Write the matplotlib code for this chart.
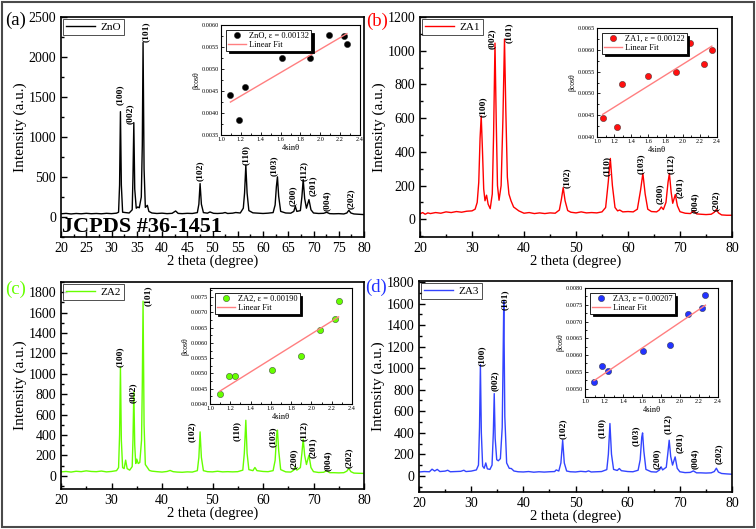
import numpy as np
import matplotlib
matplotlib.use("Agg")
import matplotlib.pyplot as plt
from matplotlib.ticker import MultipleLocator, FormatStrFormatter
from matplotlib.patches import Rectangle

plt.rcParams['font.family'] = ['Liberation Serif', 'DejaVu Serif']

# ----------------------------------------------------------
#   XRD patterns (2 theta, intensity)
# ----------------------------------------------------------
zno_pattern = [
    (20.0, 40), (21.0, 45), (22.0, 38), (23.0, 44), (24.0, 40), (25.0, 46), (26.0, 41),
    (27.0, 44), (28.0, 40), (29.0, 46), (30.0, 42), (31.0, 48), (31.4, 60), (31.6, 400),
    (31.77, 1317), (31.95, 400), (32.2, 60), (32.8, 55), (33.5, 50), (34.1, 90), (34.25, 500),
    (34.42, 1179), (34.6, 350), (34.9, 110), (35.2, 125), (35.5, 115), (35.9, 250), (36.1, 900),
    (36.25, 2182), (36.45, 600), (36.7, 120), (37.1, 146), (37.4, 70), (38.0, 50), (39.0, 44),
    (40.0, 48), (41.0, 42), (42.0, 46), (42.7, 75), (43.2, 45), (44.0, 42), (45.0, 46),
    (46.0, 44), (47.0, 55), (47.3, 160), (47.54, 418), (47.8, 160), (48.2, 55), (49.0, 48),
    (49.5, 63), (50.2, 46), (51.0, 44), (52.0, 48), (52.5, 56), (53.0, 44), (54.0, 48),
    (54.6, 56), (55.5, 50), (56.1, 110), (56.35, 300), (56.6, 648), (56.85, 300), (57.2, 80),
    (58.0, 52), (59.0, 48), (60.0, 44), (61.0, 48), (62.0, 55), (62.4, 150), (62.65, 380),
    (62.86, 502), (63.1, 260), (63.5, 70), (64.5, 50), (65.5, 48), (66.1, 70), (66.4, 134),
    (66.7, 70), (67.4, 80), (67.7, 250), (67.96, 468), (68.25, 230), (68.6, 110), (69.1, 217),
    (69.5, 90), (70.0, 50), (71.0, 44), (72.0, 46), (72.6, 59), (73.2, 42), (74.0, 40),
    (75.0, 42), (76.0, 38), (76.6, 50), (77.0, 84), (77.4, 50), (78.0, 38), (79.0, 34), (80.0, 30)]

za1_pattern = [
    (20.0, 32), (20.5, 40), (21.0, 30), (21.5, 38), (22.0, 34), (23.0, 40), (24.0, 36),
    (25.0, 44), (26.0, 40), (27.0, 46), (28.0, 42), (29.0, 48), (30.0, 50), (30.6, 60),
    (31.0, 100), (31.3, 220), (31.55, 480), (31.77, 613), (32.0, 420), (32.25, 180), (32.5, 110),
    (32.8, 143), (33.1, 90), (33.5, 63), (33.9, 150), (34.15, 500), (34.42, 1045), (34.65, 600),
    (34.9, 200), (35.2, 113), (35.6, 200), (35.95, 600), (36.25, 1069), (36.5, 650), (36.8, 250),
    (37.1, 150), (37.5, 110), (38.0, 73), (39.0, 50), (40.0, 36), (41.0, 40), (42.0, 34),
    (43.0, 38), (44.0, 34), (45.0, 38), (46.0, 36), (46.8, 55), (47.2, 120), (47.54, 188),
    (47.9, 110), (48.4, 52), (49.0, 42), (50.0, 38), (51.0, 44), (52.0, 38), (53.0, 40),
    (54.0, 38), (55.0, 44), (55.7, 70), (56.2, 220), (56.6, 361), (57.0, 200), (57.5, 70),
    (58.0, 50), (58.4, 55), (59.0, 44), (60.0, 46), (61.0, 44), (61.8, 60), (62.4, 170),
    (62.86, 272), (63.3, 150), (63.8, 60), (64.5, 46), (65.5, 44), (66.0, 55), (66.4, 73),
    (66.8, 58), (67.3, 100), (67.7, 220), (67.96, 272), (68.3, 160), (68.6, 95), (69.1, 147),
    (69.5, 80), (70.0, 45), (71.0, 36), (72.0, 34), (72.6, 50), (73.2, 32), (74.0, 30),
    (75.0, 28), (76.0, 30), (76.6, 42), (77.0, 58), (77.4, 38), (78.0, 26), (79.0, 24), (80.0, 24)]

za2_pattern = [
    (20.0, 38), (21.0, 42), (22.0, 36), (23.0, 44), (24.0, 40), (25.0, 48), (26.0, 42),
    (27.0, 40), (28.0, 46), (29.0, 38), (30.0, 42), (31.0, 50), (31.4, 80), (31.6, 400),
    (31.77, 1066), (31.95, 350), (32.2, 80), (32.5, 70), (32.8, 153), (33.1, 70), (33.6, 55),
    (34.1, 90), (34.25, 350), (34.42, 822), (34.6, 300), (34.8, 120), (35.0, 163), (35.3, 120),
    (35.6, 130), (35.95, 350), (36.1, 900), (36.25, 1712), (36.45, 500), (36.7, 110), (37.5, 52),
    (38.0, 45), (39.0, 40), (40.0, 36), (41.0, 42), (41.6, 52), (42.2, 40), (43.0, 36),
    (44.0, 34), (45.0, 38), (46.0, 36), (47.0, 50), (47.3, 180), (47.54, 430), (47.8, 180),
    (48.2, 50), (49.0, 40), (50.0, 38), (51.0, 44), (52.0, 38), (53.0, 40), (54.0, 38),
    (55.0, 40), (56.0, 55), (56.3, 220), (56.6, 544), (56.85, 220), (57.2, 60), (58.0, 50),
    (58.4, 81), (58.8, 50), (60.0, 42), (61.0, 40), (62.0, 50), (62.4, 150), (62.7, 400),
    (62.86, 447), (63.1, 250), (63.5, 60), (64.5, 38), (65.5, 36), (66.1, 55), (66.4, 88),
    (66.7, 55), (67.4, 80), (67.7, 220), (67.96, 359), (68.25, 200), (68.6, 110), (69.1, 202),
    (69.5, 80), (70.0, 40), (71.0, 32), (72.0, 34), (72.6, 49), (73.2, 30), (74.0, 30),
    (75.0, 28), (76.0, 30), (76.6, 45), (77.0, 72), (77.4, 40), (78.0, 26), (79.0, 24), (80.0, 23)]

za3_pattern = [
    (20.0, 36), (21.0, 40), (22.0, 38), (22.5, 62), (23.0, 45), (23.5, 60), (24.0, 40),
    (25.0, 44), (25.5, 52), (26.0, 38), (27.0, 40), (28.0, 42), (28.6, 52), (29.0, 40),
    (30.0, 44), (31.0, 55), (31.4, 100), (31.6, 450), (31.77, 1033), (31.95, 400), (32.2, 90),
    (32.5, 70), (32.8, 120), (33.1, 65), (33.6, 60), (34.0, 100), (34.25, 400), (34.42, 764),
    (34.6, 350), (34.9, 150), (35.2, 140), (35.6, 160), (35.95, 450), (36.1, 1000), (36.25, 1620),
    (36.45, 550), (36.8, 120), (37.3, 70), (37.7, 68), (38.2, 45), (39.0, 38), (40.0, 36),
    (41.0, 40), (42.0, 34), (43.0, 38), (44.0, 35), (45.0, 38), (46.0, 40), (46.3, 55),
    (46.8, 45), (47.2, 120), (47.54, 331), (47.85, 120), (48.3, 45), (49.0, 38), (50.0, 36),
    (51.0, 42), (52.0, 38), (52.5, 46), (53.0, 36), (54.0, 38), (55.0, 40), (56.0, 58),
    (56.3, 200), (56.6, 486), (56.9, 200), (57.3, 60), (58.0, 50), (58.4, 68), (58.8, 48),
    (60.0, 40), (61.0, 38), (62.0, 52), (62.4, 150), (62.7, 360), (62.86, 399), (63.1, 230),
    (63.5, 60), (64.5, 38), (65.5, 35), (66.1, 55), (66.4, 84), (66.7, 55), (67.4, 80),
    (67.7, 210), (67.96, 331), (68.25, 180), (68.6, 100), (69.1, 176), (69.5, 70), (70.0, 38),
    (71.0, 30), (72.0, 32), (72.6, 46), (73.2, 28), (74.0, 28), (75.0, 26), (76.0, 28),
    (76.6, 40), (77.0, 71), (77.4, 35), (78.0, 22), (79.0, 18), (80.0, 15)]

# --- (hkl) labels: position (2 theta, intensity) of each label ---
hkl = ['(100)', '(002)', '(101)', '(102)', '(110)', '(103)', '(200)', '(112)', '(201)', '(004)', '(202)']
hkl_zno = [(31.73, 1526), (33.7, 1296), (36.8, 2311), (47.5, 577), (56.6, 780), (62.2, 640),
           (65.85, 263), (68.1, 577), (69.9, 389), (72.7, 205), (77.3, 222)]
hkl_za1 = [(32.0, 669), (33.75, 1071), (37.15, 1105), (48.15, 248), (56.0, 317), (62.55, 327),
           (66.05, 149), (68.3, 327), (69.9, 188), (72.9, 99), (76.8, 111)]
hkl_za2 = [(31.6, 1170), (34.2, 818), (37.2, 1767), (45.95, 430), (54.9, 437), (61.9, 381),
           (66.2, 163), (68.0, 440), (69.9, 277), (72.9, 147), (77.0, 173)]
hkl_za3 = [(32.0, 1113), (34.5, 881), (36.45, 1639), (47.6, 433), (55.1, 448), (61.65, 371),
           (65.65, 155), (67.7, 479), (69.95, 303), (72.95, 155), (77.4, 204)]

# --- Williamson-Hall data (4 sin(theta), beta cos(theta)) ---
wh_x = [1.095, 1.183, 1.244, 1.612, 1.896, 2.086, 2.236, 2.268]
wh_x_za1 = [1.066, 1.233, 1.294, 1.600, 1.923, 2.082, 2.248, 2.340]
wh_zno = [0.00441, 0.00385, 0.00459, 0.00525, 0.00525, 0.00577, 0.00574, 0.00557]
wh_za1 = [0.00444, 0.00423, 0.00522, 0.00540, 0.00549, 0.00616, 0.00567, 0.00600]
wh_za2 = [0.00434, 0.00491, 0.00491, 0.00513, 0.00558, 0.00641, 0.00679, 0.00736]
wh_za3 = [0.00519, 0.00568, 0.00552, 0.00611, 0.00631, 0.00723, 0.00741, 0.00778]
strain = ['0.00132', '0.00122', '0.00190', '0.00207']

W, H = 756, 529


def box(l, t, r, b):
    # pixel box -> figure fraction rect
    return [l / W, 1 - b / H, (r - l) / W, (b - t) / H]


def main_panel(fig, rect, pattern, color, name, ylim, ymaj, xmaj, labels):
    ax = fig.add_axes(rect)
    tt, inten = np.array(pattern).T
    ax.plot(tt, inten, color=color, lw=1.0, label=name)
    for txt, (x, y) in zip(hkl, labels):
        ax.text(x, y, txt, rotation=90, ha='center', va='center',
                fontsize=6.8, fontweight='bold')
    ax.set_xlim(20, 80)
    ax.set_ylim(*ylim)
    ax.xaxis.set_major_locator(MultipleLocator(xmaj))
    ax.xaxis.set_minor_locator(MultipleLocator(xmaj / 2))
    ax.yaxis.set_major_locator(MultipleLocator(ymaj))
    ax.yaxis.set_minor_locator(MultipleLocator(ymaj / 2))
    ax.tick_params(which='both', direction='in', labelsize=10, width=1)
    ax.tick_params(which='major', length=4)
    ax.tick_params(which='minor', length=2)
    for s in ax.spines.values():
        s.set_linewidth(1.2)
    ax.set_xlabel('2 theta (degree)', fontsize=10.5, labelpad=0)
    ax.set_ylabel('Intensity (a.u.)', fontsize=11, labelpad=1)
    leg = ax.legend(loc='upper left', fontsize=8, frameon=True, fancybox=False,
                    edgecolor='black', handlelength=2.6, borderpad=0.25,
                    borderaxespad=0.2, handletextpad=0.5)
    leg.get_frame().set_linewidth(0.6)
    return ax


def inset(fig, rect, x, y, color, name, eps, ylim):
    ax = fig.add_axes(rect)
    ax.plot(x, y, 'o', ms=4.5, color=color, mec='#222222', mew=0.3,
            label=name + ', ε = ' + eps)
    k, c = np.polyfit(x, y, 1)
    xf = np.array([min(x), max(x)])
    ax.plot(xf, k * xf + c, color='#ff7f80', lw=1.0, label='Linear Fit')
    ax.set_xlim(1.0, 2.4)
    ax.set_ylim(*ylim)
    ax.xaxis.set_major_locator(MultipleLocator(0.2))
    ax.xaxis.set_minor_locator(MultipleLocator(0.1))
    ax.yaxis.set_major_locator(MultipleLocator(0.0005))
    ax.yaxis.set_minor_locator(MultipleLocator(0.00025))
    ax.xaxis.set_major_formatter(FormatStrFormatter('%.1f'))
    ax.yaxis.set_major_formatter(FormatStrFormatter('%.4f'))
    ax.tick_params(which='both', direction='in', labelsize=4.5, width=0.6, pad=1.5)
    ax.tick_params(which='major', length=2.5)
    ax.tick_params(which='minor', length=1.3)
    for s in ax.spines.values():
        s.set_linewidth(0.8)
    ax.set_xlabel('4sinθ', fontsize=6, labelpad=1.5)
    ax.set_ylabel('βcosθ', fontsize=5.5, labelpad=1)
    leg = ax.legend(loc='upper left', fontsize=6, fancybox=False, edgecolor='black',
                    shadow={'color': 'black', 'alpha': 1}, borderpad=0.2,
                    handlelength=2.2, handletextpad=0.4, labelspacing=0.15,
                    borderaxespad=0.6, framealpha=1)
    leg.get_frame().set_linewidth(0.6)
    return ax


fig = plt.figure(figsize=(7.56, 5.29), dpi=100)

# --- outer frame ---
fig.patches.append(Rectangle((2 / W, 2 / H), 752 / W, 525 / H, transform=fig.transFigure,
                             fill=False, edgecolor='#4a4a4a', lw=1.5))

# (a) ZnO
ax_a = main_panel(fig, box(61, 17, 364, 237), zno_pattern, 'black', 'ZnO',
                  (-250, 2500), 500, 5, hkl_zno)
ax_a.text(20.1, -125, 'JCPDS #36-1451', fontsize=16, fontweight='bold', va='center', ha='left')
inset(fig, box(221, 25, 360, 135), wh_x, wh_zno, 'black', 'ZnO', strain[0], (0.0035, 0.0060))

# (b) ZA1
main_panel(fig, box(420, 17, 732, 237), za1_pattern, '#ff0000', 'ZA1',
           (-105, 1200), 200, 10, hkl_za1)
inset(fig, box(597, 28, 717, 137), wh_x_za1, wh_za1, '#ff1010', 'ZA1', strain[1], (0.0040, 0.0065))

# (c) ZA2
main_panel(fig, box(61, 282, 364, 489), za2_pattern, '#66ff00', 'ZA2',
           (-130, 1900), 200, 10, hkl_za2)
inset(fig, box(210, 288, 352, 404), wh_x, wh_za2, '#66ff00', 'ZA2', strain[2], (0.0040, 0.0078))

# (d) ZA3
main_panel(fig, box(419, 281, 732, 492), za3_pattern, '#3344ff', 'ZA3',
           (-150, 1810), 200, 10, hkl_za3)
inset(fig, box(585, 288, 718, 397), wh_x, wh_za3, '#2233ff', 'ZA3', strain[3], (0.00475, 0.0080))

# --- panel letters ---
fig.text(16 / W, 1 - 20 / H, '(a)', color='black', fontsize=13.5, ha='center', va='center')
fig.text(377 / W, 1 - 21 / H, '(b)', color='#ff0000', fontsize=13.5, ha='center', va='center')
fig.text(16 / W, 1 - 289 / H, '(c)', color='#66ff00', fontsize=13.5, ha='center', va='center')
fig.text(376 / W, 1 - 287 / H, '(d)', color='#2233ff', fontsize=13.5, ha='center', va='center')

fig.savefig('out.png', dpi=100)
